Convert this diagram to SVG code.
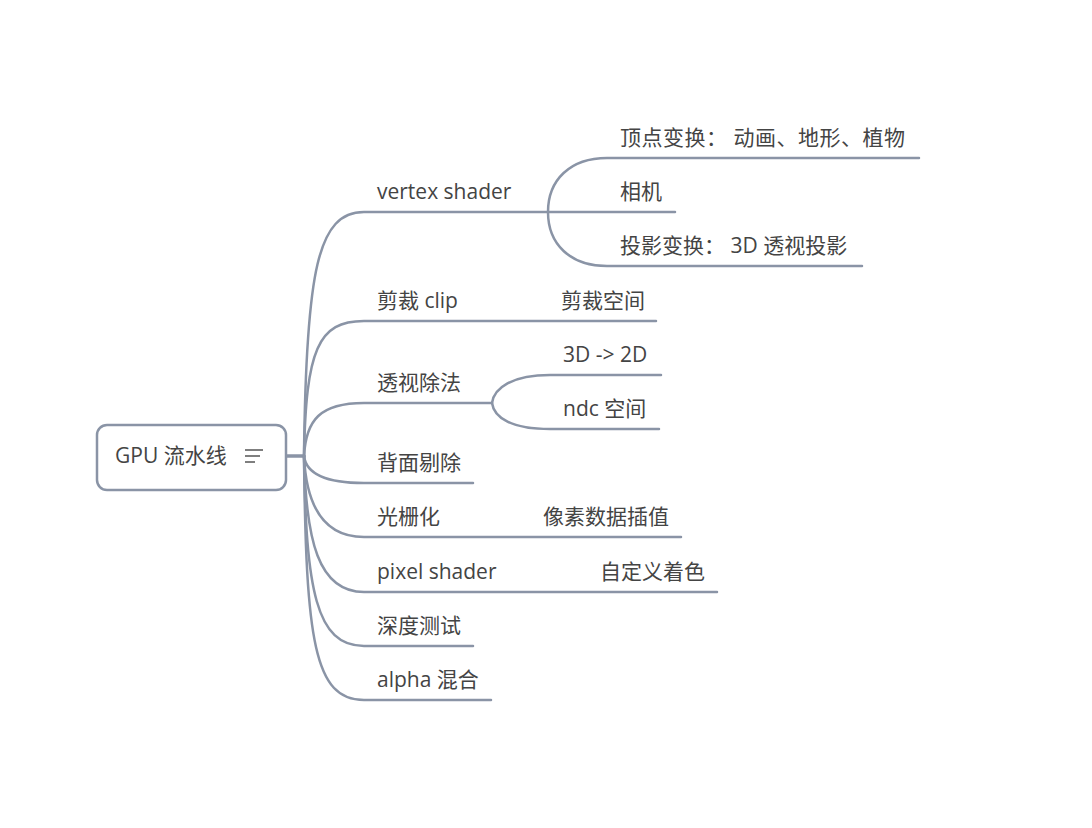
<svg xmlns="http://www.w3.org/2000/svg" width="1092" height="828" viewBox="0 0 1092 828">
<style>
.t{font-family:"Open Sans","Noto Sans CJK SC",sans-serif;font-size:21px;fill:#444444}
.c{fill:none;stroke:#8a94a6;stroke-width:2.5;stroke-linecap:round}
</style>
<rect width="1092" height="828" fill="#ffffff"/>
<g id="connectors">
<path class="c" d="M286,456 L304,456" style="stroke-width:3.5"/>
<path class="c" d="M304,456 C306,270 318,212 364,212 L548,212"/>
<path class="c" d="M304,456 C306,350 318,321 364,321 L656,321"/>
<path class="c" d="M304,456 C306,420 320,403 364,403 L492,403"/>
<path class="c" d="M304,456 C306,472 322,483 364,483 L473,483"/>
<path class="c" d="M304,456 C306,500 320,537 364,537 L681,537"/>
<path class="c" d="M304,456 C306,540 318,592 364,592 L717,592"/>
<path class="c" d="M304,456 C306,590 316,646 364,646 L473,646"/>
<path class="c" d="M304,456 C306,640 314,700 364,700 L491,700"/>
<path class="c" d="M548,212 C548,180 570,158 607,158 L919,158"/>
<path class="c" d="M548,212 L675,212"/>
<path class="c" d="M548,212 C548,244 570,266 607,266 L862,266"/>
<path class="c" d="M492,403 C494,388 512,375 550,375 L661,375"/>
<path class="c" d="M492,403 C494,418 512,429 550,429 L659,429"/>
</g>
<g id="root">
<rect x="97" y="425" width="189" height="65" rx="10" fill="#ffffff" stroke="#8a94a6" stroke-width="2.5"/>
<text class="t" x="115" y="463">GPU 流水线</text>
<path d="M245,450 H263 M245,456 H260 M245,462 H255" stroke="#555" stroke-width="1.6" fill="none"/>
</g>
<g id="vertex-shader"><text class="t" x="377" y="199">vertex shader</text></g>
<g id="vs-1"><text class="t" x="620" y="145" textLength="285" lengthAdjust="spacing">顶点变换： 动画、地形、植物</text></g>
<g id="vs-2"><text class="t" x="620" y="199">相机</text></g>
<g id="vs-3"><text class="t" x="620" y="253">投影变换： 3D 透视投影</text></g>
<g id="clip"><text class="t" x="377" y="308">剪裁 clip</text></g>
<g id="clip-1"><text class="t" x="561" y="308">剪裁空间</text></g>
<g id="persp"><text class="t" x="377" y="390">透视除法</text></g>
<g id="persp-1"><text class="t" x="563" y="362">3D -&gt; 2D</text></g>
<g id="persp-2"><text class="t" x="563" y="416">ndc 空间</text></g>
<g id="cull"><text class="t" x="377" y="470">背面剔除</text></g>
<g id="raster"><text class="t" x="377" y="524">光栅化</text></g>
<g id="raster-1"><text class="t" x="543" y="524">像素数据插值</text></g>
<g id="pixel"><text class="t" x="377" y="579">pixel shader</text></g>
<g id="pixel-1"><text class="t" x="600" y="579">自定义着色</text></g>
<g id="depth"><text class="t" x="377" y="633">深度测试</text></g>
<g id="alpha"><text class="t" x="377" y="687">alpha 混合</text></g>
</svg>
